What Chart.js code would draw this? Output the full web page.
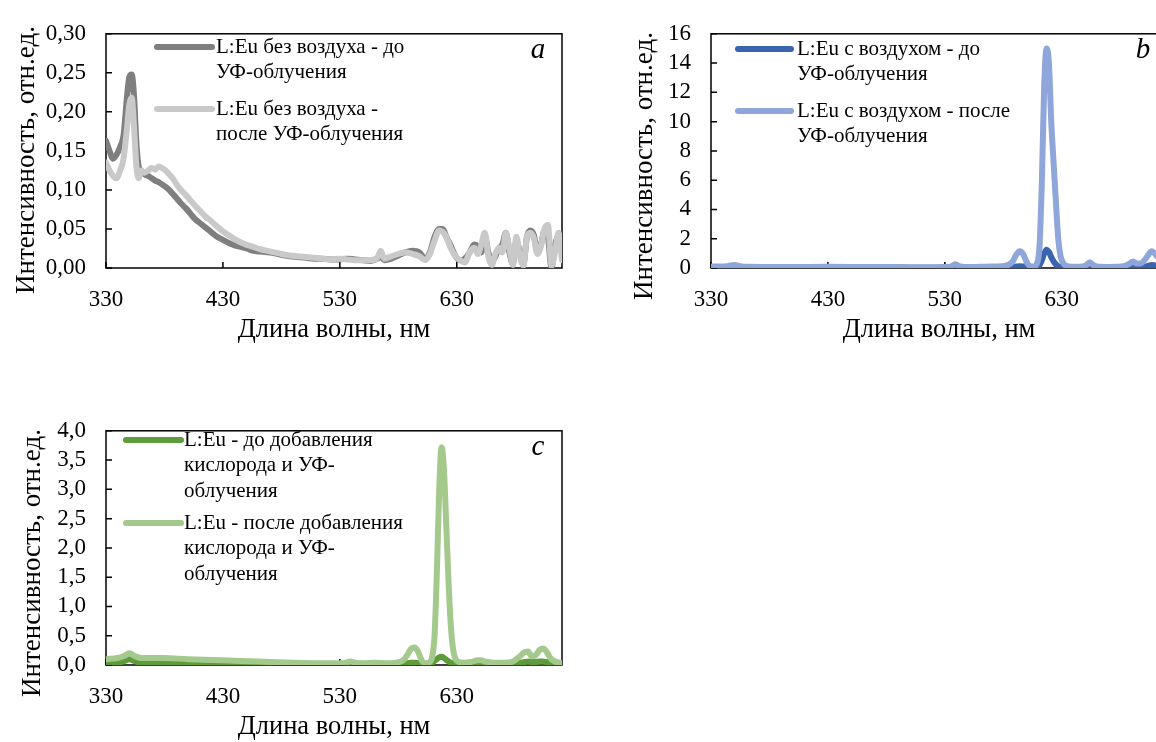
<!DOCTYPE html>
<html>
<head>
<meta charset="utf-8">
<script src="https://cdn.jsdelivr.net/npm/chart.js@4.4.0/dist/chart.umd.min.js"></script>
<style>
  html, body { margin: 0; padding: 0; background: #fff; width: 1156px; height: 742px; overflow: hidden; }
  .box { position: absolute; width: 600px; height: 360px; }
</style>
</head>
<body>
<div class="box" style="left:0;top:0"><canvas id="chartA" width="600" height="360"></canvas></div>
<div class="box" style="left:605px;top:0"><canvas id="chartB" width="600" height="360"></canvas></div>
<div class="box" style="left:0;top:397px"><canvas id="chartC" width="600" height="360"></canvas></div>

<script>
// ---- data ----

// chart a: L:Eu без воздуха
const wlA = [330, 333, 336, 339, 342, 345, 348, 350, 352, 354, 356, 358, 360, 363, 366, 369, 372, 375, 378, 381,
  384, 387, 390, 394, 398, 402, 406, 410, 415, 420, 425, 430, 435, 440, 445, 450, 456, 462, 468, 474,
  480, 487, 494, 501, 508, 515, 522, 529, 536, 543, 550, 556, 562, 565, 568, 574, 580, 586, 592, 598,
  603, 607, 611, 615, 618, 621, 625, 629, 633, 637, 641, 645, 648, 651, 654, 657, 660, 663, 666, 669,
  672, 675, 678, 681, 684, 687, 690, 693, 696, 699, 702, 705, 708, 711, 714, 717, 720];
const aBefore = [0.163, 0.15, 0.14, 0.145, 0.155, 0.17, 0.22, 0.245, 0.248, 0.22, 0.16, 0.13, 0.125, 0.12, 0.118, 0.115, 0.112, 0.11, 0.107, 0.104,
  0.1, 0.095, 0.09, 0.083, 0.077, 0.07, 0.063, 0.058, 0.052, 0.046, 0.04, 0.036, 0.032, 0.029, 0.027, 0.025, 0.022, 0.021, 0.02, 0.019,
  0.017, 0.015, 0.014, 0.013, 0.012, 0.012, 0.011, 0.011, 0.012, 0.011, 0.01, 0.009, 0.012, 0.015, 0.01, 0.012, 0.016, 0.02, 0.022, 0.02,
  0.012, 0.02, 0.04, 0.05, 0.05, 0.04, 0.028, 0.015, 0.01, 0.012, 0.02, 0.03, 0.028, 0.02, 0.04, 0.02, 0.008, 0.015, 0.025, 0.03,
  0.045, 0.02, 0.005, 0.035, 0.02, 0.005, 0.04, 0.048, 0.042, 0.02, 0.03, 0.048, 0.04, 0.0, 0.03, 0.04, 0.02];
const aAfter = [0.135, 0.125, 0.118, 0.115, 0.125, 0.14, 0.18, 0.21, 0.218, 0.18, 0.13, 0.115, 0.125, 0.122, 0.125, 0.128, 0.126, 0.13, 0.128, 0.125,
  0.12, 0.115, 0.108, 0.1, 0.094, 0.087, 0.08, 0.074, 0.066, 0.06, 0.053, 0.047, 0.042, 0.037, 0.033, 0.03, 0.027, 0.024, 0.022, 0.02,
  0.018, 0.016, 0.015, 0.014, 0.013, 0.012, 0.011, 0.012, 0.011, 0.01, 0.01, 0.01, 0.013, 0.022, 0.012, 0.015, 0.018, 0.02, 0.018, 0.015,
  0.01, 0.018, 0.035, 0.048, 0.046, 0.04, 0.025, 0.015, 0.01, 0.007, 0.02, 0.026, 0.018, 0.03, 0.045, 0.015, 0.004, 0.018, 0.026, 0.02,
  0.045, 0.025, 0.004, 0.04, 0.015, 0.003, 0.04, 0.045, 0.038, 0.018, 0.028, 0.05, 0.055, 0.003, 0.02, 0.045, 0.01];

// chart b: L:Eu с воздухом
const wlB = [330, 340, 345, 350, 355, 360, 380, 400, 430, 460, 490, 520, 530, 535, 539, 543, 550, 560, 570, 578,
  584, 588, 591, 594, 597, 600, 603, 606, 609, 611, 613, 615, 617, 619, 621, 623, 625, 627, 629, 632,
  636, 642, 648, 651, 654, 657, 662, 670, 678, 684, 688, 691, 694, 697, 701, 704, 707, 710, 714, 720];
const bBefore = [0.02, 0.02, 0.03, 0.06, 0.03, 0.02, 0.02, 0.02, 0.02, 0.02, 0.02, 0.02, 0.02, 0.02, 0.03, 0.02, 0.02, 0.02, 0.02, 0.03,
  0.05, 0.08, 0.1, 0.12, 0.1, 0.06, 0.04, 0.05, 0.1, 0.2, 0.55, 1.0, 1.25, 1.1, 0.75, 0.45, 0.25, 0.12, 0.06, 0.03,
  0.02, 0.02, 0.02, 0.03, 0.06, 0.03, 0.02, 0.02, 0.02, 0.04, 0.08, 0.12, 0.1, 0.08, 0.1, 0.15, 0.2, 0.18, 0.15, 0.12];
const bAfter = [0.1, 0.1, 0.14, 0.2, 0.12, 0.08, 0.07, 0.07, 0.08, 0.07, 0.06, 0.05, 0.06, 0.1, 0.25, 0.1, 0.06, 0.08, 0.1, 0.12,
  0.2, 0.45, 0.9, 1.15, 0.95, 0.4, 0.12, 0.1, 0.35, 1.5, 6, 12.5, 15, 14, 10, 7.2, 4.5, 2, 0.8, 0.25,
  0.1, 0.08, 0.1, 0.2, 0.4, 0.2, 0.08, 0.07, 0.08, 0.15, 0.3, 0.45, 0.3, 0.3, 0.55, 0.9, 1.15, 0.95, 0.55, 0.3];

// chart c: L:Eu до / после добавления кислорода
const wlC = wlB;
const cBefore = [0.03, 0.04, 0.06, 0.1, 0.06, 0.04, 0.03, 0.03, 0.02, 0.02, 0.01, 0.01, 0.01, 0.01, 0.02, 0.01, 0.01, 0.01, 0.01, 0.01,
  0.02, 0.03, 0.04, 0.04, 0.03, 0.02, 0.01, 0.02, 0.04, 0.07, 0.1, 0.13, 0.14, 0.12, 0.09, 0.06, 0.04, 0.02, 0.02, 0.01,
  0.01, 0.01, 0.02, 0.02, 0.02, 0.01, 0.01, 0.01, 0.02, 0.04, 0.05, 0.06, 0.05, 0.05, 0.06, 0.06, 0.05, 0.04, 0.02, null];
const cAfter = [0.1, 0.12, 0.15, 0.2, 0.15, 0.12, 0.12, 0.1, 0.08, 0.06, 0.04, 0.03, 0.03, 0.04, 0.06, 0.04, 0.03, 0.04, 0.03, 0.04,
  0.08, 0.18, 0.28, 0.3, 0.22, 0.08, 0.03, 0.04, 0.15, 0.5, 1.6, 3.0, 3.72, 3.35, 2.4, 1.4, 0.65, 0.25, 0.1, 0.05,
  0.04, 0.05, 0.08, 0.08, 0.06, 0.05, 0.04, 0.04, 0.06, 0.15, 0.22, 0.23, 0.15, 0.16, 0.26, 0.28, 0.22, 0.12, 0.06, 0.03];

// axes
const xTicks = [330, 430, 530, 630];
const yTicksA = [0, 0.05, 0.10, 0.15, 0.20, 0.25, 0.30];
const yTicksB = [0, 2, 4, 6, 8, 10, 12, 14, 16];
const yTicksC = [0, 0.5, 1.0, 1.5, 2.0, 2.5, 3.0, 3.5, 4.0];

const legendA = [['L:Eu без воздуха - до', 'УФ-облучения'], ['L:Eu без воздуха -', 'после УФ-облучения']];
const legendB = [['L:Eu с воздухом - до', 'УФ-облучения'], ['L:Eu с воздухом - после', 'УФ-облучения']];
const legendC = [['L:Eu - до добавления', 'кислорода и УФ-', 'облучения'], ['L:Eu - после добавления', 'кислорода и УФ-', 'облучения']];

const xTitle = 'Длина волны, нм';
const yTitle = 'Интенсивность, отн.ед.';

// ---- drawing ----
const SERIF = "'Liberation Serif', 'Times New Roman', serif";

// frame, inside ticks, titles, legend, letter
const decor = {
  id: 'decor',
  beforeDatasetsDraw(chart, args, o) {
    const ctx = chart.ctx, a = chart.chartArea;
    const xs = chart.scales.x, ys = chart.scales.y;
    ctx.save();
    ctx.strokeStyle = '#000';
    ctx.lineWidth = 1.5;
    ctx.strokeRect(a.left, a.top, a.right - a.left, a.bottom - a.top);
    ctx.beginPath();
    xs.ticks.forEach(t => {
      const px = xs.getPixelForValue(t.value);
      ctx.moveTo(px, a.bottom); ctx.lineTo(px, a.bottom - 6);
    });
    ys.ticks.forEach(t => {
      const py = ys.getPixelForValue(t.value);
      ctx.moveTo(a.left, py); ctx.lineTo(a.left + 6, py);
    });
    ctx.stroke();
    ctx.restore();
  },
  afterDraw(chart, args, o) {
    const ctx = chart.ctx, a = chart.chartArea;
    ctx.save();
    ctx.fillStyle = '#000';
    ctx.textAlign = 'center';
    ctx.textBaseline = 'middle';
    ctx.font = '26.5px ' + SERIF;
    ctx.fillText(xTitle, (a.left + a.right) / 2, 330);
    ctx.save();
    ctx.translate(o.yTitleX, o.yTitleY);
    ctx.rotate(-Math.PI / 2);
    ctx.font = '27px ' + SERIF;
    ctx.fillText(yTitle, 0, 0);
    ctx.restore();

    ctx.font = 'italic 29px ' + SERIF;
    ctx.fillText(o.letter, 538, 50);

    // legend
    ctx.font = '21px ' + SERIF;
    ctx.textAlign = 'left';
    o.legend.forEach((lines, i) => {
      const y0 = o.legendY[i];
      ctx.strokeStyle = o.colors[i];
      ctx.lineWidth = 6;
      ctx.lineCap = 'round';
      ctx.beginPath();
      ctx.moveTo(o.legendX[0], y0); ctx.lineTo(o.legendX[1], y0);
      ctx.stroke();
      lines.forEach((s, j) => ctx.fillText(s, o.legendX[2], y0 + j * 25.5));
    });
    ctx.restore();
  }
};

function makeChart(id, wl, before, after, colors, yTicks, dec, legend, letter, extra) {
  const pts = arr => wl.map((x, i) => ({ x: x, y: arr[i] }));
  return new Chart(document.getElementById(id), {
    type: 'line',
    data: {
      datasets: [
        { data: pts(before), borderColor: colors[0], order: 1 },
        { data: pts(after), borderColor: colors[1], order: 0 }
      ]
    },
    options: {
      responsive: false,
      animation: false,
      devicePixelRatio: 1,
      layout: { padding: { top: 20, right: 38, left: 0, bottom: 0 } },
      elements: {
        point: { radius: 0 },
        line: { borderWidth: 6, cubicInterpolationMode: 'monotone', borderJoinStyle: 'round', borderCapStyle: 'round' }
      },
      plugins: {
        legend: { display: false },
        tooltip: { enabled: false },
        decor: Object.assign({ colors: colors, legend: legend, letter: letter }, extra)
      },
      scales: {
        x: {
          type: 'linear', min: 330, max: 720,
          grid: { display: false, drawTicks: false },
          border: { display: false },
          ticks: { color: '#000', font: { family: SERIF, size: 23 }, padding: 18, maxRotation: 0, autoSkip: false },
          afterBuildTicks: s => { s.ticks = xTicks.map(v => ({ value: v })); },
          afterFit: s => { s.height = 92; }
        },
        y: {
          min: yTicks[0], max: yTicks[yTicks.length - 1],
          grid: { display: false, drawTicks: false },
          border: { display: false },
          ticks: {
            color: '#000', font: { family: SERIF, size: 23 }, padding: 20, autoSkip: false,
            callback: v => v.toFixed(dec).replace('.', ',')
          },
          afterBuildTicks: s => { s.ticks = yTicks.map(v => ({ value: v })); },
          afterFit: s => { s.width = 106; }
        }
      }
    },
    plugins: [decor]
  });
}

makeChart('chartA', wlA, aBefore, aAfter, ['#7f7f7f', '#c9c9c9'], yTicksA, 2, legendA, 'a',
  { yTitleX: 27, yTitleY: 160, legendX: [157, 212, 216], legendY: [47, 109] });
makeChart('chartB', wlB, bBefore, bAfter, ['#3a64ae', '#8ea6d9'], yTicksB, 0, legendB, 'b',
  { yTitleX: 40, yTitleY: 166, legendX: [133, 186, 192], legendY: [49, 111] });
makeChart('chartC', wlC, cBefore, cAfter, ['#5e9b3b', '#a4c98c'], yTicksC, 1, legendC, 'c',
  { yTitleX: 33, yTitleY: 166, legendX: [126, 181, 184], legendY: [43, 126] });
</script>
</body>
</html>
